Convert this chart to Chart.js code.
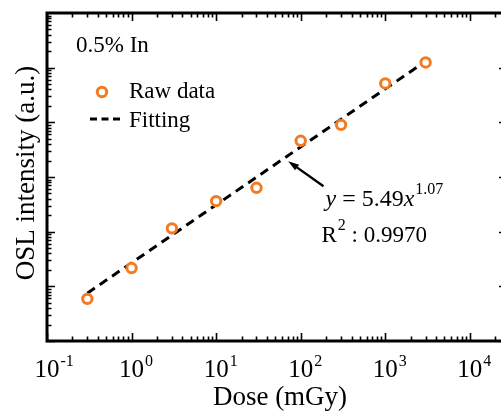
<!DOCTYPE html>
<html>
<head>
<meta charset="utf-8">
<script src="https://cdn.jsdelivr.net/npm/chart.js@4.4.1/dist/chart.umd.min.js"></script>
<style>
html, body { margin: 0; padding: 0; background: #fff; overflow: hidden; }
#wrap { width: 501px; height: 414px; overflow: hidden; }
canvas { display: block; }
</style>
</head>
<body>
<div id="wrap"><canvas id="osl-chart" width="520" height="414" style="width:520px;height:414px"></canvas></div>
<script>
// values (log-log, y in arbitrary units)
const doses = [0.3, 1, 3, 10, 30, 100, 300, 1000, 3000];
const intensity = [5.9, 21.6, 115, 362, 635, 4590, 9000, 51400, 124500];
const fitDoses = [0.3, 3000];
const fitIntensity = [7.5, 131000];
const xExponents = ['-1', '0', '1', '2', '3', '4'];
const arrowFrom = [186, 680];   // [dose, intensity]
const arrowTo = [71, 1950];

const orange = '#f47a22';
const serif = '"Liberation Serif", "Times New Roman", serif';

const decorations = {
  id: 'decorations',
  afterDatasetsDraw(chart) {
    const ctx = chart.ctx;
    const a = chart.chartArea;
    const xs = chart.scales.x, ys = chart.scales.y;
    ctx.save();

    // frame
    ctx.strokeStyle = '#000';
    ctx.lineWidth = 3;
    ctx.strokeRect(a.left, a.top, a.right - a.left, a.bottom - a.top);

    // inward ticks, all four sides
    ctx.lineWidth = 1.6;
    ctx.beginPath();
    for (let k = -1; k <= 4; k++) {
      for (let m = 1; m <= 9; m++) {
        const v = m * Math.pow(10, k);
        if (v < xs.min || v > xs.max) continue;
        const px = Math.round(xs.getPixelForValue(v)) + 0.5;
        const len = m === 1 ? 8 : 4.5;
        ctx.moveTo(px, a.bottom); ctx.lineTo(px, a.bottom - len);
        ctx.moveTo(px, a.top); ctx.lineTo(px, a.top + len);
      }
    }
    for (let k = 0; k <= 5; k++) {
      for (let m = 1; m <= 9; m++) {
        const v = m * Math.pow(10, k);
        if (v < ys.min || v > ys.max) continue;
        const py = Math.round(ys.getPixelForValue(v)) + 0.5;
        const len = m === 1 ? 8 : 4.5;
        ctx.moveTo(a.left, py); ctx.lineTo(a.left + len, py);
        ctx.moveTo(a.right, py); ctx.lineTo(a.right - len, py);
      }
    }
    ctx.stroke();

    // x tick labels 10^n
    ctx.fillStyle = '#000';
    ctx.textBaseline = 'alphabetic';
    xExponents.forEach(e => {
      const px = xs.getPixelForValue(Math.pow(10, +e));
      ctx.font = '25px ' + serif;
      ctx.textAlign = 'center';
      ctx.fillText('10', px, 377);
      const w = ctx.measureText('10').width;
      ctx.font = '16px ' + serif;
      ctx.textAlign = 'left';
      ctx.fillText(e, px + w / 2 + 1, 366);
    });

    // axis titles
    ctx.font = '27px ' + serif;
    ctx.textAlign = 'center';
    ctx.fillText('Dose (mGy)', (a.left + a.right) / 2 + 3, 405);
    ctx.save();
    ctx.translate(34, (a.top + a.bottom) / 2 - 4);
    ctx.rotate(-Math.PI / 2);
    ctx.fillText('OSL intensity (a.u.)', 0, 0);
    ctx.restore();

    // sample label
    ctx.textAlign = 'left';
    ctx.font = '23px ' + serif;
    ctx.fillText('0.5% In', a.left + 29, a.top + 39);

    // legend
    ctx.beginPath();
    ctx.arc(a.left + 55, a.top + 79, 4.7, 0, Math.PI * 2);
    ctx.fillStyle = '#fff';
    ctx.fill();
    ctx.lineWidth = 3;
    ctx.strokeStyle = orange;
    ctx.stroke();
    ctx.fillStyle = '#000';
    ctx.fillText('Raw data', a.left + 82, a.top + 85);
    ctx.beginPath();
    ctx.setLineDash([7, 4.5]);
    ctx.strokeStyle = '#000';
    ctx.lineWidth = 3;
    ctx.moveTo(a.left + 43, a.top + 106);
    ctx.lineTo(a.left + 73, a.top + 106);
    ctx.stroke();
    ctx.setLineDash([]);
    ctx.fillText('Fitting', a.left + 82, a.top + 114);

    // arrow pointing at the fit line
    const x0 = xs.getPixelForValue(arrowFrom[0]), y0 = ys.getPixelForValue(arrowFrom[1]);
    const x1 = xs.getPixelForValue(arrowTo[0]), y1 = ys.getPixelForValue(arrowTo[1]);
    const ang = Math.atan2(y1 - y0, x1 - x0);
    ctx.lineWidth = 2.4;
    ctx.beginPath();
    ctx.moveTo(x0, y0);
    ctx.lineTo(x1 - 6 * Math.cos(ang), y1 - 6 * Math.sin(ang));
    ctx.stroke();
    ctx.beginPath();
    ctx.moveTo(x1, y1);
    ctx.lineTo(x1 - 11 * Math.cos(ang) + 3.5 * Math.sin(ang), y1 - 11 * Math.sin(ang) - 3.5 * Math.cos(ang));
    ctx.lineTo(x1 - 11 * Math.cos(ang) - 3.5 * Math.sin(ang), y1 - 11 * Math.sin(ang) + 3.5 * Math.cos(ang));
    ctx.closePath();
    ctx.fill();

    // equation
    let tx = x0 + 2;
    ctx.font = 'italic 24px ' + serif;
    ctx.fillText('y', tx, 206);
    tx += ctx.measureText('y').width;
    ctx.font = '24px ' + serif;
    ctx.fillText(' = 5.49', tx, 206);
    tx += ctx.measureText(' = 5.49').width;
    ctx.font = 'italic 24px ' + serif;
    ctx.fillText('x', tx, 206);
    tx += ctx.measureText('x').width;
    ctx.font = '16px ' + serif;
    ctx.fillText('1.07', tx + 1, 194);

    tx = x0 - 2;
    ctx.font = '23px ' + serif;
    ctx.fillText('R', tx, 242);
    tx += ctx.measureText('R').width;
    ctx.font = '16px ' + serif;
    ctx.fillText('2', tx + 1, 230);
    tx += ctx.measureText('2').width + 1;
    ctx.font = '23px ' + serif;
    ctx.fillText(' : 0.9970', tx, 242);

    ctx.restore();
  }
};

new Chart(document.getElementById('osl-chart'), {
  type: 'scatter',
  data: {
    datasets: [{
      label: 'Raw data',
      data: doses.map((d, i) => ({ x: d, y: intensity[i] })),
      pointStyle: 'circle',
      pointRadius: 4.7,
      pointBorderWidth: 3,
      pointBackgroundColor: '#fff',
      pointBorderColor: orange,
      showLine: false
    }, {
      label: 'Fitting',
      data: fitDoses.map((d, i) => ({ x: d, y: fitIntensity[i] })),
      showLine: true,
      borderColor: '#000',
      borderWidth: 3,
      borderDash: [9, 6],
      pointRadius: 0
    }]
  },
  options: {
    responsive: false,
    animation: false,
    layout: { padding: { left: 47, top: 13, right: 13, bottom: 73 } },
    plugins: {
      legend: { display: false },
      tooltip: { enabled: false }
    },
    scales: {
      x: { type: 'logarithmic', min: 0.1, max: 27500, display: false },
      y: { type: 'logarithmic', min: 1, max: 1e6, display: false }
    }
  },
  plugins: [decorations]
});
</script>
</body>
</html>
